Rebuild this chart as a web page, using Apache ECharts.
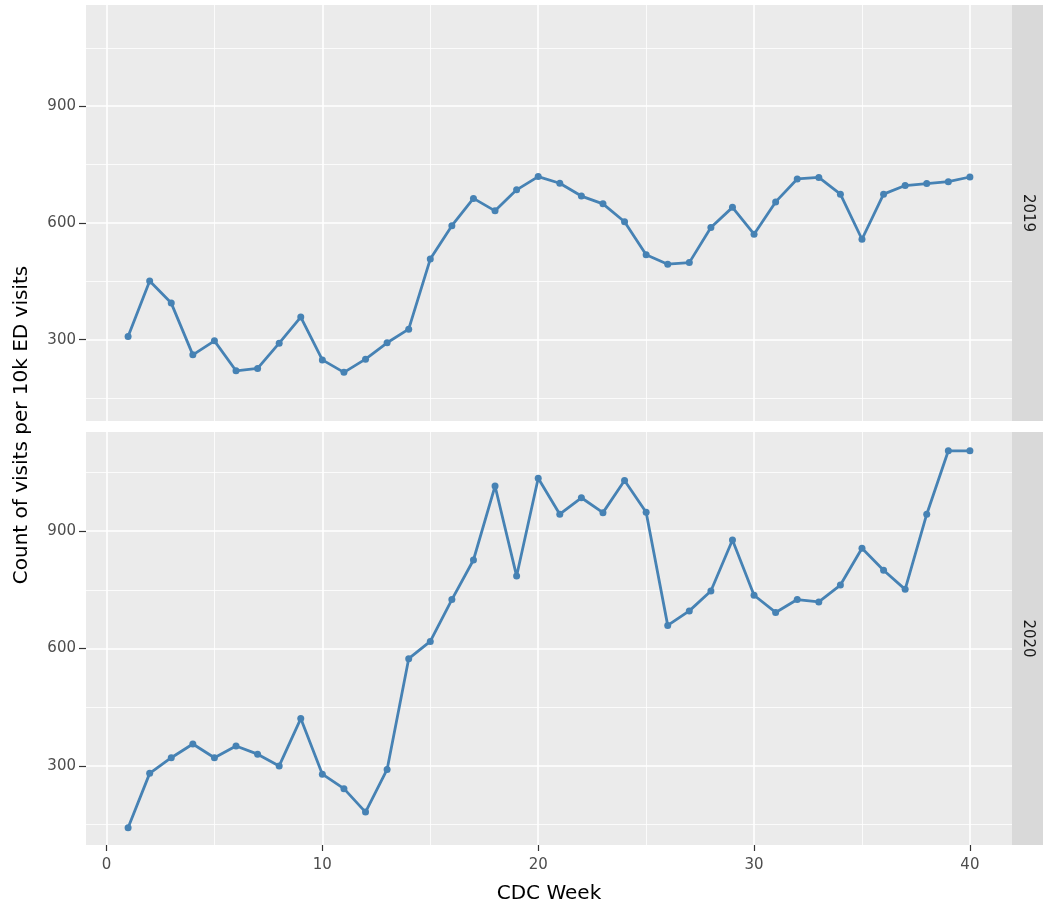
<!DOCTYPE html>
<html>
<head>
<meta charset="utf-8">
<script src="https://cdn.jsdelivr.net/npm/echarts@6/dist/echarts.min.js"></script>
<style>
  html, body { margin: 0; padding: 0; background: #fff; }
  #chart { width: 1043px; height: 907px; }
</style>
</head>
<body>
<div id="chart"></div>
<script>
// CDC weeks
const weeks = [1, 2, 3, 4, 5, 6, 7, 8, 9, 10, 11, 12, 13, 14, 15, 16, 17, 18, 19, 20,
               21, 22, 23, 24, 25, 26, 27, 28, 29, 30, 31, 32, 33, 34, 35, 36, 37, 38, 39, 40];

// visits per 10k ED visits
const visits2019 = [308, 451, 394, 261, 297, 220, 226, 291, 358, 248, 216, 250, 292, 327, 507, 593, 663, 631, 685, 719,
                    702, 669, 649, 603, 518, 494, 498, 588, 640, 571, 654, 713, 717, 674, 558, 674, 696, 701, 706, 718];
const visits2020 = [142, 281, 321, 356, 321, 351, 330, 300, 421, 279, 242, 182, 291, 574, 618, 725, 826, 1015, 785, 1035,
                    943, 985, 947, 1029, 948, 659, 696, 747, 877, 736, 692, 725, 719, 762, 856, 800, 751, 943, 1105, 1105];

const facetLabels = ['2019', '2020'];

const xMajor = [0, 10, 20, 30, 40];
const xMinor = [5, 15, 25, 35];
const yMajor = [300, 600, 900];
const yMinor = [150, 450, 750, 1050];

const FONT = 'DejaVu Sans';
const LINE_COLOR = '#4682B4';

// panel layout (ggplot facet_grid look)
const PANEL_LEFT = 86;
const PANEL_RIGHT = 1012;
const STRIP_W = 31;
const panels = [
  { top: 5, height: 416, yMin: 91, yMax: 1160 },
  { top: 432, height: 413, yMin: 98, yMax: 1153 }
];

const chart = echarts.init(document.getElementById('chart'));

const grids = panels.map(p => ({
  left: PANEL_LEFT,
  top: p.top,
  width: PANEL_RIGHT - PANEL_LEFT,
  height: p.height,
  show: true,
  backgroundColor: '#EBEBEB',
  borderWidth: 0
}));

const xAxes = [];
const yAxes = [];
panels.forEach((p, gi) => {
  const isBottom = gi === panels.length - 1;
  // major x
  xAxes.push({
    type: 'value', gridIndex: gi, min: -0.95, max: 41.95,
    axisLine: { show: false, onZero: false },
    axisTick: { show: isBottom, customValues: xMajor, length: 6, lineStyle: { color: '#333', width: 1.2 } },
    axisLabel: { show: isBottom, customValues: xMajor, margin: 13, color: '#4D4D4D', fontSize: 15, fontFamily: FONT },
    splitLine: { show: true, lineStyle: { color: '#fff', width: 1.6 } },
    name: isBottom ? 'CDC Week' : '',
    nameLocation: 'middle',
    nameGap: 39,
    nameTextStyle: { color: '#000', fontSize: 20, fontFamily: FONT }
  });
  // minor x
  xAxes.push({
    type: 'value', gridIndex: gi, min: -0.95, max: 41.95,
    axisLine: { show: false, onZero: false },
    axisTick: { show: false, customValues: xMinor },
    axisLabel: { show: false },
    splitLine: { show: true, lineStyle: { color: '#fff', width: 0.8 } }
  });
  // major y
  yAxes.push({
    type: 'value', gridIndex: gi, min: p.yMin, max: p.yMax,
    axisLine: { show: false, onZero: false },
    axisTick: { show: true, customValues: yMajor, length: 7, lineStyle: { color: '#333', width: 1.2 } },
    axisLabel: { customValues: yMajor, margin: 10, color: '#4D4D4D', fontSize: 15, fontFamily: FONT },
    splitLine: { show: true, lineStyle: { color: '#fff', width: 1.6 } }
  });
  // minor y
  yAxes.push({
    type: 'value', gridIndex: gi, min: p.yMin, max: p.yMax,
    axisLine: { show: false, onZero: false },
    axisTick: { show: false, customValues: yMinor },
    axisLabel: { show: false },
    splitLine: { show: true, lineStyle: { color: '#fff', width: 0.8 } }
  });
});

const seriesData = [visits2019, visits2020];
const series = seriesData.map((vals, gi) => ({
  type: 'line',
  xAxisIndex: gi * 2,
  yAxisIndex: gi * 2,
  data: weeks.map((w, i) => [w, vals[i]]),
  symbol: 'circle',
  symbolSize: 7,
  showSymbol: true,
  itemStyle: { color: LINE_COLOR },
  lineStyle: { color: LINE_COLOR, width: 2.8 },
  animation: false,
  silent: true
}));

// facet strips on the right + shared y title
const graphic = [];
panels.forEach((p, gi) => {
  graphic.push({
    type: 'rect',
    shape: { x: PANEL_RIGHT, y: p.top, width: STRIP_W, height: p.height },
    style: { fill: '#D9D9D9' },
    z: 10
  });
  graphic.push({
    type: 'text',
    x: PANEL_RIGHT + STRIP_W / 2,
    y: p.top + p.height / 2,
    rotation: -Math.PI / 2,
    style: {
      text: facetLabels[gi], fill: '#1A1A1A', fontSize: 15, fontFamily: FONT,
      align: 'center', verticalAlign: 'middle'
    },
    z: 11
  });
});
graphic.push({
  type: 'text',
  x: 22,
  y: (panels[0].top + panels[1].top + panels[1].height) / 2,
  rotation: Math.PI / 2,
  style: {
    text: 'Count of visits per 10k ED visits', fill: '#000', fontSize: 20, fontFamily: FONT,
    align: 'center', verticalAlign: 'middle'
  }
});

chart.setOption({
  backgroundColor: '#fff',
  animation: false,
  grid: grids,
  xAxis: xAxes,
  yAxis: yAxes,
  series: series,
  graphic: graphic
});
</script>
</body>
</html>
